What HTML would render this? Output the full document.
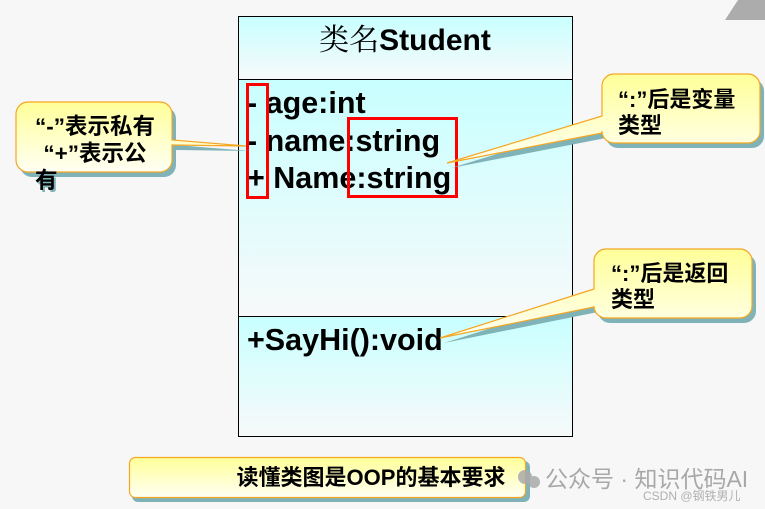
<!DOCTYPE html>
<html><head><meta charset="utf-8"><style>
html,body{margin:0;padding:0;background:#f7f7f7;}
svg{display:block;}
text{font-family:"Liberation Sans","Noto Sans CJK SC",sans-serif;}
</style></head><body>
<svg width="765" height="509" viewBox="0 0 765 509" xmlns="http://www.w3.org/2000/svg">
<defs>
<linearGradient id="cy" x1="0" y1="0" x2="0" y2="1"><stop offset="0" stop-color="#c8ffff"/><stop offset="1" stop-color="#f7f9fa"/></linearGradient>
<linearGradient id="yl" x1="0" y1="0" x2="0" y2="1"><stop offset="0" stop-color="#ffff99"/><stop offset="1" stop-color="#fffff4"/></linearGradient>
</defs>
<rect width="765" height="509" fill="#f7f7f7"/>
<polygon points="738,0 765,0 765,20 725,20" fill="#acacac"/>
<rect x="238" y="16" width="334" height="63" fill="url(#cy)"/>
<rect x="238" y="79" width="334" height="237" fill="url(#cy)"/>
<rect x="238" y="316" width="334" height="120" fill="url(#cy)"/>
<rect x="238.5" y="16.5" width="334" height="420" fill="none" stroke="#000" stroke-width="1"/>
<line x1="238" y1="79.5" x2="572" y2="79.5" stroke="#000"/>
<line x1="238" y1="316.5" x2="572" y2="316.5" stroke="#000"/>
<text x="405" y="50" text-anchor="middle" font-size="30"><tspan font-family="'Noto Serif CJK SC',serif">类名</tspan><tspan font-weight="bold">Student</tspan></text>
<g font-size="30.5" font-weight="bold" fill="#000">
<text x="247" y="113">- age:int</text>
<text x="247" y="151">- name:string</text>
<text x="247" y="188">+ Name:string</text>
<text x="247" y="350">+SayHi():void</text>
</g>
<rect x="247.5" y="84.5" width="20" height="113" fill="none" stroke="#f00" stroke-width="3"/>
<rect x="348.5" y="118.5" width="108" height="78" fill="none" stroke="#f00" stroke-width="3"/>
<g transform="translate(4,5)" fill="#7fb3b8">
<path d="M28,102 H160 a12,12 0 0 1 12,12 V140 L246,146 L172,145 V160 a12,12 0 0 1 -12,12 H28 a12,12 0 0 1 -12,-12 V114 a12,12 0 0 1 12,-12Z"/>
</g>
<path d="M28,102 H160 a12,12 0 0 1 12,12 V140 L246,146 L172,145 V160 a12,12 0 0 1 -12,12 H28 a12,12 0 0 1 -12,-12 V114 a12,12 0 0 1 12,-12Z" fill="url(#yl)" stroke="#f5a623" stroke-width="1.2"/>
<g font-size="22.5" font-weight="bold" fill="#000">
<text x="95" y="134" text-anchor="middle">“-”表示私有</text>
<text x="95" y="161" text-anchor="middle">“+”表示公</text>
<text x="37" y="190" fill="#7fb3b8">有</text>
<text x="35" y="188">有</text>
</g>
<g transform="translate(4,5)" fill="#7fb3b8">
<path d="M614,74 H748 a12,12 0 0 1 12,12 V131 a12,12 0 0 1 -12,12 H614 a12,12 0 0 1 -12,-12 V133 L447,163 L602,116 V86 a12,12 0 0 1 12,-12Z"/>
</g>
<path d="M614,74 H748 a12,12 0 0 1 12,12 V131 a12,12 0 0 1 -12,12 H614 a12,12 0 0 1 -12,-12 V133 L447,163 L602,116 V86 a12,12 0 0 1 12,-12Z" fill="url(#yl)" stroke="#f5a623" stroke-width="1.2"/>
<g font-size="22" font-weight="bold" fill="#000">
<text x="618" y="107">“:”后是变量</text>
<text x="618" y="133">类型</text>
</g>
<g transform="translate(4,5)" fill="#7fb3b8">
<path d="M606,249 H740 a12,12 0 0 1 12,12 V306 a12,12 0 0 1 -12,12 H606 a12,12 0 0 1 -12,-12 V307 L440,338 L594,289 V261 a12,12 0 0 1 12,-12Z"/>
</g>
<path d="M606,249 H740 a12,12 0 0 1 12,12 V306 a12,12 0 0 1 -12,12 H606 a12,12 0 0 1 -12,-12 V307 L440,338 L594,289 V261 a12,12 0 0 1 12,-12Z" fill="url(#yl)" stroke="#f5a623" stroke-width="1.2"/>
<g font-size="22" font-weight="bold" fill="#000">
<text x="611" y="281">“:”后是返回</text>
<text x="611" y="307">类型</text>
</g>
<rect x="132" y="461" width="398" height="41" rx="6" fill="#7fb3b8"/>
<rect x="129.5" y="457.5" width="396" height="40" rx="6" fill="url(#yl)" stroke="#f5a623" stroke-width="1.2"/>
<text x="371" y="485" text-anchor="middle" font-size="22" font-weight="bold">读懂类图是OOP的基本要求</text>
<g fill="#aaa" opacity="0.85">
<circle cx="525" cy="477" r="7"/><circle cx="534" cy="482" r="6"/>
</g>
<text x="545" y="487" font-size="23" fill="#a8a8a8">公众号 · 知识代码AI</text>
<text x="643" y="500" font-size="12" fill="#b0b0b0">CSDN @钢铁男儿</text>
</svg>
</body></html>
